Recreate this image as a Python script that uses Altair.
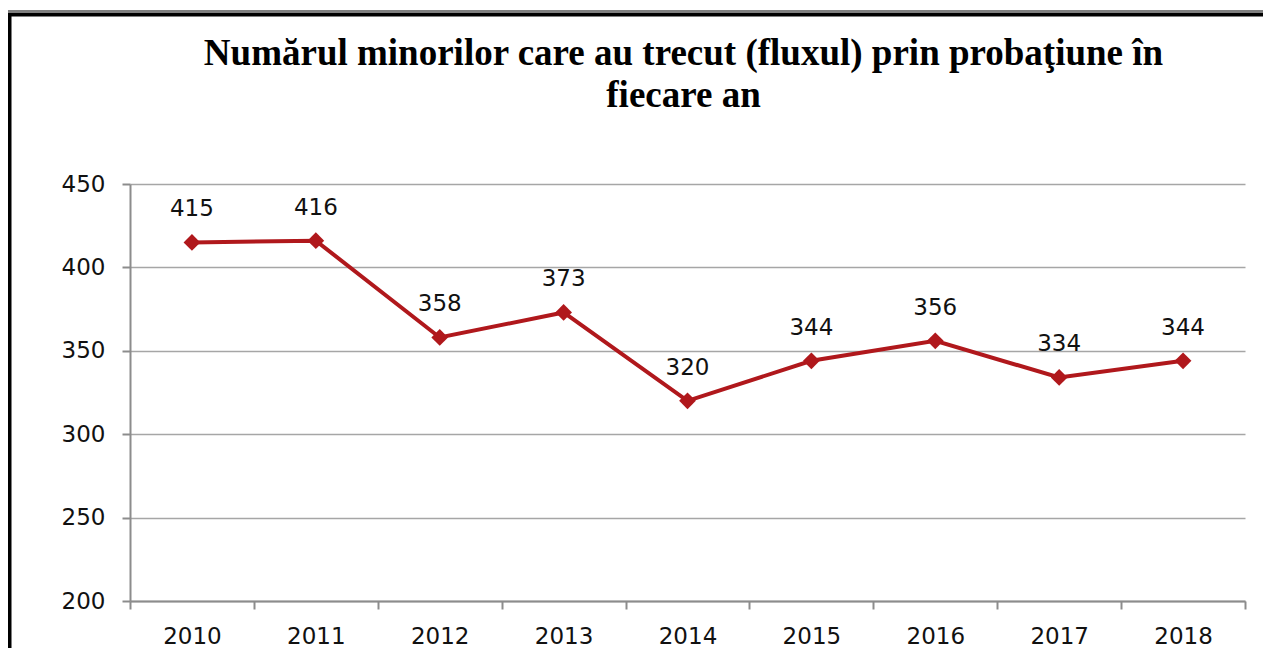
import altair as alt
import pandas as pd

years = ["2010", "2011", "2012", "2013", "2014", "2015", "2016", "2017", "2018"]
values = [415, 416, 358, 373, 320, 344, 356, 334, 344]

df = pd.DataFrame({"an": years, "valoare": values})

W, H = 1115, 417
RED = "#B0181C"
FONT = "DejaVu Sans"

x = alt.X("an:N", sort=years, title=None,
          scale=alt.Scale(paddingInner=0, paddingOuter=0),
          axis=alt.Axis(labelAngle=0, tickBand="extent", labelFont=FONT, labelFontSize=23,
                        labelColor="#111", domainColor="#8c8c8c", domainWidth=2,
                        tickColor="#8c8c8c", tickWidth=2, tickSize=8, labelPadding=16, grid=False))
y = alt.Y("valoare:Q", title=None,
          scale=alt.Scale(domain=[200, 450], nice=False, zero=False),
          axis=alt.Axis(values=[200, 250, 300, 350, 400, 450], labelFont=FONT, labelFontSize=23,
                        labelColor="#111", domainColor="#8c8c8c", domainWidth=2,
                        tickColor="#8c8c8c", tickWidth=2, tickSize=8, labelPadding=17,
                        grid=True, gridColor="#a6a6a6", gridWidth=1.5))

base = alt.Chart(df)

line = base.mark_line(color=RED, strokeWidth=4).encode(x=x, y=y)
pts = base.mark_point(shape="diamond", filled=True, color=RED, size=280, opacity=1).encode(x=x, y=y)
labels = base.mark_text(font=FONT, fontSize=23, color="#111", dy=-26, baseline="alphabetic").encode(
    x=x, y=y, text="valoare:Q")

frame = alt.Chart(pd.DataFrame({"k": [0]})).mark_rect(
    fill=None, stroke="black", strokeWidth=4).encode(
    x=alt.value(-120.5), x2=alt.value(W + 60), y=alt.value(-169.5), y2=alt.value(H + 80))
frame_thin = alt.Chart(pd.DataFrame({"k": [0]})).mark_rule(
    stroke="black", strokeWidth=1.2).encode(
    x=alt.value(-124), x2=alt.value(W + 60), y=alt.value(-173))

chart = alt.layer(line, pts, labels, frame, frame_thin).properties(
    width=W, height=H,
    title=alt.TitleParams(
        text=["Numărul minorilor care au trecut (fluxul) prin probaţiune în", "fiecare an"],
        font="Liberation Serif", fontSize=37, fontWeight="bold", color="#000",
        lineHeight=42, anchor="middle", offset=-105, dx=-4),
    padding={"left": 122, "top": 176, "right": 18, "bottom": 47},
    autosize=alt.AutoSizeParams(type="none"),
).configure_view(stroke=None)

chart.save("out.html", embed_options={"renderer": "svg", "actions": False})
